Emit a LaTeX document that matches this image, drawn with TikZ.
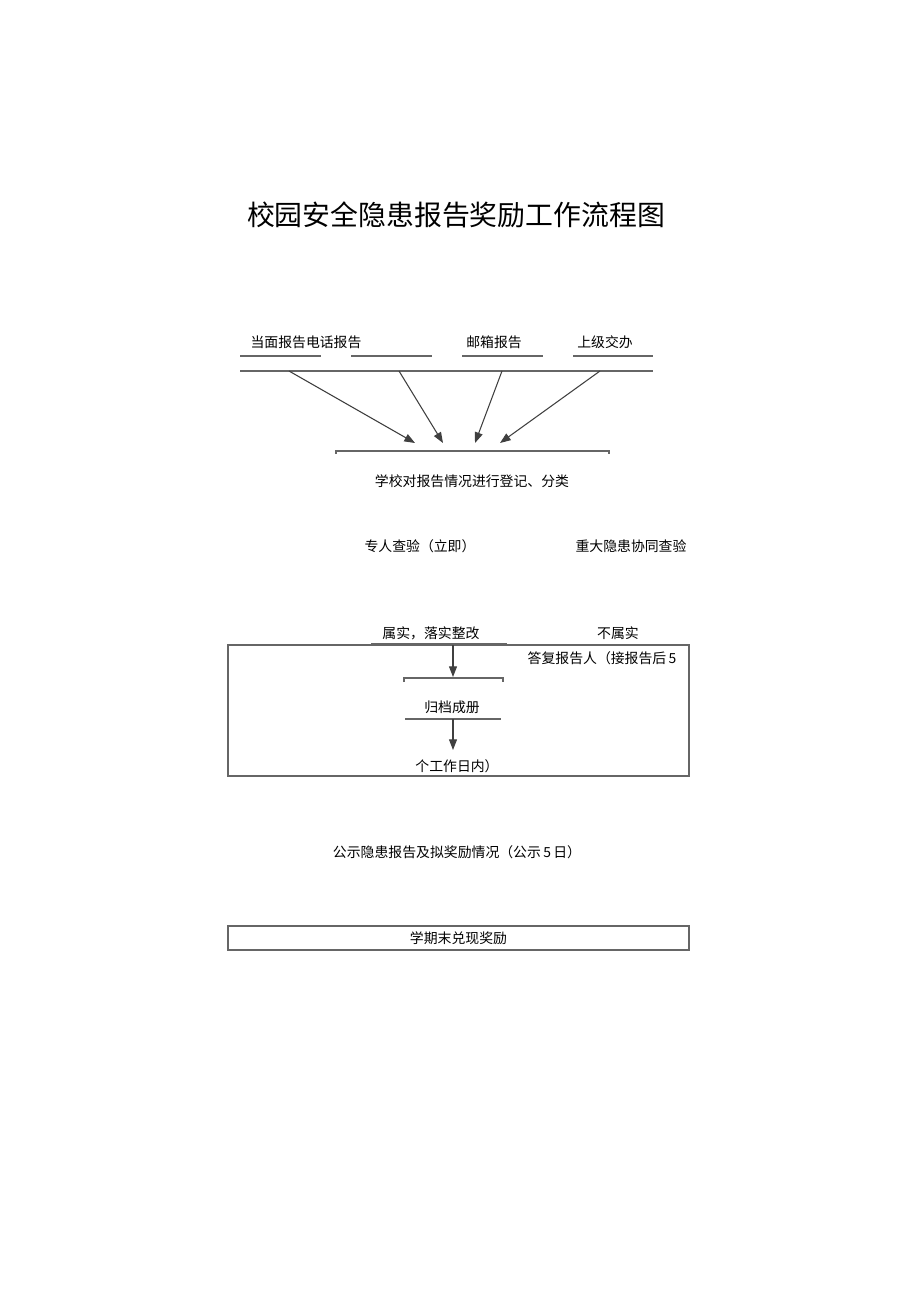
\documentclass[tikz,border=0pt]{standalone}
\usepackage{fontspec}
\newfontfamily\cjk{Noto Sans CJK SC}
\usetikzlibrary{arrows.meta}

\begin{document}
\begin{tikzpicture}[x=0.75pt, y=-0.75pt, draw=black!60, line width=0.8pt, >={Triangle[length=8pt, width=6pt]}]
    \tikzstyle{label}=[font=\cjk\fontsize{10.4}{12}\selectfont, inner sep=0pt]
    \tikzstyle{title}=[font=\cjk\fontsize{20.9}{24}\selectfont, inner sep=0pt]
    \tikzstyle{arrow}=[->, draw=black!75]
    \tikzstyle{frame}=[draw=black!60]

    \useasboundingbox (0,0) rectangle (920,1301);

    \node[title] (title) at (456,215) {校园安全隐患报告奖励工作流程图};

    % ways of reporting
    \node[label] (face) at (306,342) {当面报告电话报告};
    \node[label] (mail) at (494,342) {邮箱报告};
    \node[label] (upper) at (605,342) {上级交办};

    \foreach \a / \b in {240/321, 351/432, 462/543, 573/653}
        \draw (\a,356) -- (\b,356);
    \draw (240,371) -- (653,371);

    \foreach \i / \sx / \ex in {1/289/415, 2/399/443, 3/502/475, 4/600/500} {
        \coordinate (s-\i) at (\sx,371);
        \coordinate (e-\i) at (\ex,443);
    }
    \foreach \i in {1,...,4}
        \draw[arrow] (s-\i) -- (e-\i);

    \draw (336,454) -- (336,451) -- (609,451) -- (609,454);
    \node[label] (register) at (472,481) {学校对报告情况进行登记、分类};

    % checking
    \node[label] (check) at (420,546) {专人查验（立即）};
    \node[label] (joint) at (631,546) {重大隐患协同查验};

    \node[label] (true) at (431,633) {属实，落实整改};
    \node[label] (false) at (618,633) {不属实};
    \node[label] (reply) at (602,658) {答复报告人（接报告后\,5};

    \draw[frame] (228,645) rectangle (689,776);
    \draw (371,644) -- (507,644);

    \coordinate (t-top) at (453,645);
    \coordinate (t-bot) at (453,677);
    \draw[arrow] (t-top) -- (t-bot);
    \draw (404,682) -- (404,678) -- (503,678) -- (503,682);

    \node[label] (archive) at (452,707) {归档成册};
    \draw (405,719) -- (501,719);
    \coordinate (a-top) at (453,719);
    \coordinate (a-bot) at (453,750);
    \draw[arrow] (a-top) -- (a-bot);
    \node[label] (days) at (457,766) {个工作日内）};

    % publishing and reward
    \node[label] (publish) at (457,852) {公示隐患报告及拟奖励情况（公示\,5\,日）};
    \node[label, frame, minimum width=461*0.75pt, minimum height=24*0.75pt] (reward) at (458.5,938) {学期末兑现奖励};
\end{tikzpicture}
\end{document}
